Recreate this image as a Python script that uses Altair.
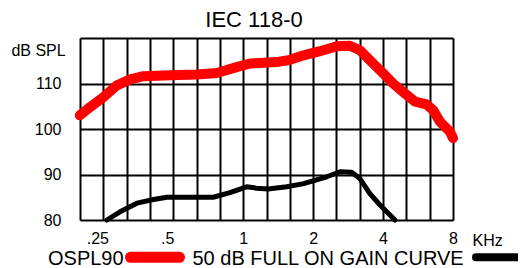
import altair as alt
import pandas as pd

# ---- data ----
ospl_freq = [0.198, 0.219, 0.25, 0.286, 0.326, 0.372, 0.485, 0.632, 0.769, 0.937, 1.07, 1.18,
             1.39, 1.59, 1.82, 2.14, 2.53, 2.88, 3.18, 3.51, 4.01, 4.42, 4.89, 5.49, 6.16,
             6.58, 7.03, 7.76, 8.0]
ospl_db = [103.0, 104.8, 107.0, 109.6, 110.9, 111.6, 111.8, 112.0, 112.3, 113.6, 114.4, 114.5,
           114.7, 115.2, 116.2, 117.1, 118.2, 118.3, 117.3, 115.1, 112.2, 110.0, 108.1, 106.0,
           105.4, 104.1, 101.6, 99.4, 98.0]

gain_freq = [0.259, 0.295, 0.349, 0.411, 0.469, 0.743, 0.877, 1.035, 1.14, 1.28, 1.54, 1.82,
             2.29, 2.61, 2.93, 3.18, 3.51, 3.88, 4.21, 4.50]
gain_db = [80.0, 81.8, 83.7, 84.5, 85.0, 85.0, 86.0, 87.3, 87.0, 86.8, 87.3, 88.0,
           89.5, 90.6, 90.5, 89.1, 85.8, 83.3, 81.5, 80.0]

x_tick_values = [0.25, 0.5, 1, 2, 4, 8]
x_tick_labels = [".25", ".5", "1", "2", "4", "8"]
x_grid = [8 * 2 ** (-k / 3) for k in range(16, -1, -1)]   # third-octave grid
y_ticks = [80, 90, 100, 110, 120]

title_text = "IEC 118-0"
legend_a = "OSPL90"
legend_b = "50 dB FULL ON GAIN CURVE"

FONT = "Liberation Sans"

df_ospl = pd.DataFrame({"freq": ospl_freq, "db": ospl_db})
df_gain = pd.DataFrame({"freq": gain_freq, "db": gain_db})

x_label_expr = "''"
for v, s in reversed(list(zip(x_tick_values, x_tick_labels))):
    x_label_expr = f"abs(datum.value - {v}) < 0.001 ? '{s}' : ({x_label_expr})"

X = alt.X("freq:Q",
          scale=alt.Scale(type="log", domain=[8 * 2 ** (-16 / 3), 8], nice=False),
          axis=alt.Axis(values=x_grid, labelExpr=x_label_expr, grid=True, gridColor="black",
                        gridWidth=2, gridOpacity=1, ticks=False, domain=False,
                        labelOverlap=False, labelFlush=False, labelPadding=10,
                        labelOffset={"condition": {"test": "datum.value < 0.6", "value": -6},
                                     "value": 0},
                        labelFont=FONT, labelFontSize=16, labelColor="black",
                        title="KHz", titleFont=FONT, titleFontSize=16, titleFontWeight="normal",
                        titleColor="black", titleX=392, titleY=25.5, titleAlign="left",
                        titleBaseline="alphabetic", titleAnchor="start"))
Y = alt.Y("db:Q",
          scale=alt.Scale(domain=[80, 120], nice=False, zero=False),
          axis=alt.Axis(values=y_ticks,
                        labelExpr="datum.value >= 120 ? '' : datum.label",
                        grid=True, gridColor="black", gridWidth=2, gridOpacity=1,
                        ticks=False, domain=False, labelPadding=19,
                        labelFont=FONT, labelFontSize=16, labelColor="black",
                        title="dB SPL", titleAngle=0, titleFont=FONT, titleFontSize=16,
                        titleFontWeight="normal", titleColor="black", titleX=-42, titleY=17,
                        titleAlign="center", titleBaseline="alphabetic"))

ospl = alt.Chart(df_ospl).mark_line(color="#ff0000", strokeWidth=10, strokeCap="round",
                                    strokeJoin="round").encode(x=X, y=Y)
gain = alt.Chart(df_gain).mark_line(color="black", strokeWidth=5, strokeCap="round",
                                    strokeJoin="round").encode(x=X, y=Y)

one = pd.DataFrame({"t": [0]})
title = alt.Chart(one).mark_text(font=FONT, fontSize=22, align="center", baseline="alphabetic",
                                 color="black").encode(
    x=alt.value(174), y=alt.value(-11.5), text=alt.value(title_text))
leg_a = alt.Chart(one).mark_text(font=FONT, fontSize=20, align="left", baseline="alphabetic",
                                 color="black").encode(
    x=alt.value(-32), y=alt.value(227), text=alt.value(legend_a))
leg_a_line = alt.Chart(one).mark_rule(color="#ff0000", strokeWidth=11, strokeCap="round").encode(
    x=alt.value(50.5), x2=alt.value(99.5), y=alt.value(219.3))
leg_b = alt.Chart(one).mark_text(font=FONT, fontSize=20, align="left", baseline="alphabetic",
                                 color="black").encode(
    x=alt.value(112.5), y=alt.value(227), text=alt.value(legend_b))
leg_b_line = alt.Chart(one).mark_rule(color="black", strokeWidth=8, strokeCap="round").encode(
    x=alt.value(396), x2=alt.value(470), y=alt.value(219.3))

chart = alt.layer(ospl, gain, title, leg_a, leg_a_line, leg_b, leg_b_line).properties(
    width=373, height=182,
    autosize=alt.AutoSizeParams(type="none"),
    padding={"left": 72, "top": 30, "right": 65, "bottom": 52},
).configure_view(stroke="black", strokeWidth=2).configure(background="white")

chart.save("out.html", embed_options={"renderer": "svg", "actions": False})
